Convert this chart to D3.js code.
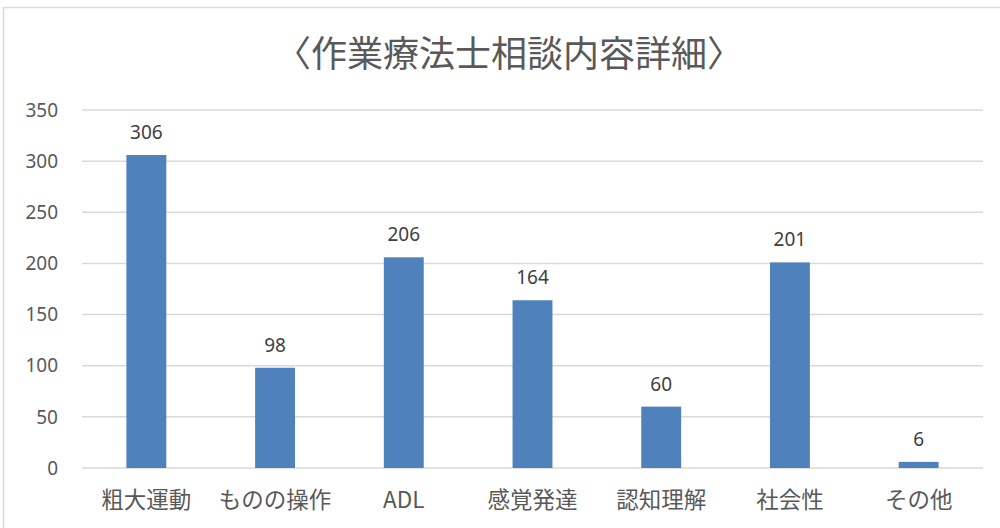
<!DOCTYPE html>
<html>
<head>
<meta charset="utf-8">
<script src="https://d3js.org/d3.v7.min.js"></script>
<style>
  body { margin: 0; background: #fff; }
  svg { display: block; }
  .title { font-family: "Noto Sans CJK JP", sans-serif; font-size: 36px; fill: #595959; }
  .tick-label { font-family: "Noto Sans", "Liberation Sans", sans-serif; font-size: 19px; fill: #595959; }
  .cat-label { font-family: "Noto Sans CJK JP", sans-serif; font-size: 22.5px; fill: #595959; }
  .value-label { font-family: "Noto Sans", "Liberation Sans", sans-serif; font-size: 19px; fill: #404040; }
</style>
</head>
<body>
<svg id="chart" width="1000" height="528"></svg>
<script>
// chart data
const categories = ['粗大運動', 'ものの操作', 'ADL', '感覚発達', '認知理解', '社会性', 'その他'];
const values = [306, 98, 206, 164, 60, 201, 6];
const yTicks = [0, 50, 100, 150, 200, 250, 300, 350];
const title = '〈作業療法士相談内容詳細〉';

const svg = d3.select('#chart');
const width = 1000, height = 528;
const margin = { top: 110, right: 17, bottom: 60, left: 82 };
const innerWidth = width - margin.left - margin.right;
const innerHeight = height - margin.top - margin.bottom;

// chart area border (only top and left edges fall inside the picture)
svg.append('line')
  .attr('x1', 3.5).attr('x2', width).attr('y1', 7.5).attr('y2', 7.5)
  .attr('stroke', '#d9d9d9').attr('stroke-width', 1.5);
svg.append('line')
  .attr('x1', 3.5).attr('x2', 3.5).attr('y1', 7.5).attr('y2', height)
  .attr('stroke', '#d9d9d9').attr('stroke-width', 1.5);

svg.append('text')
  .attr('class', 'title')
  .attr('x', 509).attr('y', 67)
  .attr('text-anchor', 'middle')
  .text(title);

const xScale = d3.scaleBand()
  .domain(categories)
  .range([0, innerWidth])
  .paddingInner(0.69)
  .paddingOuter(0.345);

const yScale = d3.scaleLinear()
  .domain([0, 350])
  .range([innerHeight, 0]);

const g = svg.append('g')
  .attr('transform', `translate(${margin.left},${margin.top})`);

// gridlines
g.selectAll('.grid')
  .data(yTicks)
  .enter().append('line')
  .attr('x1', 0).attr('x2', innerWidth)
  .attr('y1', d => yScale(d)).attr('y2', d => yScale(d))
  .attr('stroke', '#d9d9d9').attr('stroke-width', 1.5);

// y labels
g.selectAll('.tick-label')
  .data(yTicks)
  .enter().append('text')
  .attr('class', 'tick-label')
  .attr('x', -24)
  .attr('y', d => yScale(d))
  .attr('dy', '0.35em')
  .attr('text-anchor', 'end')
  .text(d => d);

// bars
g.selectAll('.bar')
  .data(values)
  .enter().append('rect')
  .attr('x', (d, i) => xScale(categories[i]))
  .attr('width', xScale.bandwidth())
  .attr('y', d => yScale(d))
  .attr('height', d => innerHeight - yScale(d))
  .attr('fill', '#4f81bd');

// value labels
g.selectAll('.value-label')
  .data(values)
  .enter().append('text')
  .attr('class', 'value-label')
  .attr('x', (d, i) => xScale(categories[i]) + xScale.bandwidth() / 2)
  .attr('y', d => yScale(d) - 16)
  .attr('text-anchor', 'middle')
  .text(d => d);

// category labels
g.selectAll('.cat-label')
  .data(categories)
  .enter().append('text')
  .attr('class', 'cat-label')
  .attr('x', d => xScale(d) + xScale.bandwidth() / 2)
  .attr('y', innerHeight + 40)
  .attr('text-anchor', 'middle')
  .text(d => d);
</script>
</body>
</html>
